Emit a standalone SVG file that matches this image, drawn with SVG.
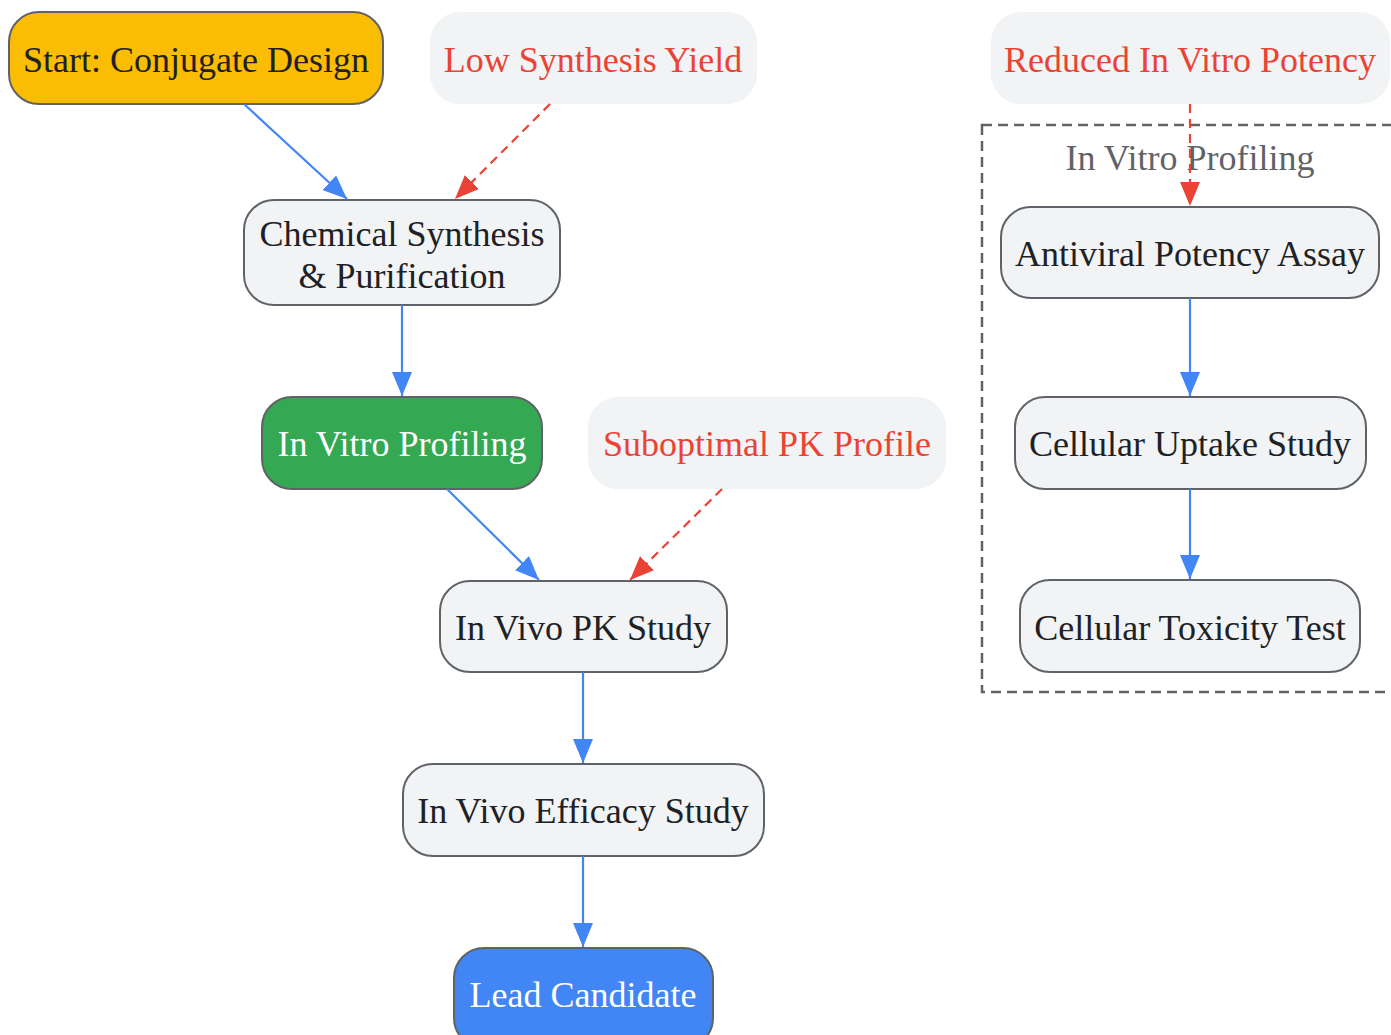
<svg xmlns="http://www.w3.org/2000/svg" width="1391" height="1035" viewBox="0 0 1391 1035">
<defs>
<style>
text{font-family:"Liberation Serif","Times New Roman",serif;font-size:36px;text-anchor:middle;dominant-baseline:central}
.n{fill:#f1f3f4;stroke:#5f6368;stroke-width:2}
.nt{fill:#202124}
.issue{fill:#f1f3f4;stroke:none}
.it{fill:#ea4335}
.e{fill:none;stroke:#4285f4;stroke-width:2.2}
.ed{fill:none;stroke:#ea4335;stroke-width:2.2;stroke-dasharray:9,6}
</style>
<marker id="ab" viewBox="0 0 24 20" refX="24" refY="10" markerWidth="24" markerHeight="20" markerUnits="userSpaceOnUse" orient="auto">
<path d="M0,0 L24,10 L0,20 z" fill="#4285f4"/>
</marker>
<marker id="ar" viewBox="0 0 24 20" refX="24" refY="10" markerWidth="24" markerHeight="20" markerUnits="userSpaceOnUse" orient="auto">
<path d="M0,0 L24,10 L0,20 z" fill="#ea4335"/>
</marker>
</defs>
<rect width="1391" height="1035" fill="#ffffff"/>
<g id="cluster">
<rect x="982" y="125" width="430" height="567" fill="none" stroke="#5f6368" stroke-width="2.5" stroke-dasharray="10,6"/>
<text x="1190" y="158" fill="#5f6368">In Vitro Profiling</text>
</g>
<g id="start"><rect x="9" y="12" width="374" height="92" rx="30" fill="#fbbc04" stroke="#5f6368" stroke-width="2"/><text class="nt" x="196" y="60">Start: Conjugate Design</text></g>
<g id="lowyield"><rect class="issue" x="430" y="12" width="327" height="92" rx="30"/><text class="it" x="593" y="60">Low Synthesis Yield</text></g>
<g id="reduced"><rect class="issue" x="991" y="12" width="399" height="92" rx="30"/><text class="it" x="1190" y="60">Reduced In Vitro Potency</text></g>
<g id="chem"><rect class="n" x="244" y="200" width="316" height="105" rx="30"/><text class="nt" x="402" y="234">Chemical Synthesis</text><text class="nt" x="402" y="276">&amp; Purification</text></g>
<g id="invitro"><rect x="262" y="397" width="280" height="92" rx="30" fill="#34a853" stroke="#5f6368" stroke-width="2"/><text x="402" y="444" fill="#ffffff">In Vitro Profiling</text></g>
<g id="subpk"><rect class="issue" x="588" y="397" width="358" height="92" rx="30"/><text class="it" x="767" y="444">Suboptimal PK Profile</text></g>
<g id="pk"><rect class="n" x="440" y="581" width="287" height="91" rx="30"/><text class="nt" x="583" y="628">In Vivo PK Study</text></g>
<g id="efficacy"><rect class="n" x="403" y="764" width="361" height="92" rx="30"/><text class="nt" x="583" y="811">In Vivo Efficacy Study</text></g>
<g id="lead"><rect x="454" y="948" width="259" height="100" rx="30" fill="#4285f4" stroke="#5f6368" stroke-width="2"/><text x="583" y="995" fill="#ffffff">Lead Candidate</text></g>
<g id="antiviral"><rect class="n" x="1001" y="207" width="378" height="91" rx="30"/><text class="nt" x="1190" y="254">Antiviral Potency Assay</text></g>
<g id="uptake"><rect class="n" x="1015" y="397" width="351" height="92" rx="30"/><text class="nt" x="1190" y="444">Cellular Uptake Study</text></g>
<g id="toxicity"><rect class="n" x="1020" y="580" width="340" height="92" rx="30"/><text class="nt" x="1190" y="628">Cellular Toxicity Test</text></g>
<g id="edges">
<path class="e" d="M244,104 L347,199" marker-end="url(#ab)"/>
<path class="ed" d="M550,104 L455,199" marker-end="url(#ar)"/>
<path class="e" d="M402,305 L402,396" marker-end="url(#ab)"/>
<path class="e" d="M447,489 L539,580" marker-end="url(#ab)"/>
<path class="ed" d="M722,489 L630,580" marker-end="url(#ar)"/>
<path class="e" d="M583,672 L583,763" marker-end="url(#ab)"/>
<path class="e" d="M583,856 L583,947" marker-end="url(#ab)"/>
<path class="ed" d="M1190,104 L1190,206" marker-end="url(#ar)"/>
<path class="e" d="M1190,298 L1190,396" marker-end="url(#ab)"/>
<path class="e" d="M1190,489 L1190,579" marker-end="url(#ab)"/>
</g>
</svg>
